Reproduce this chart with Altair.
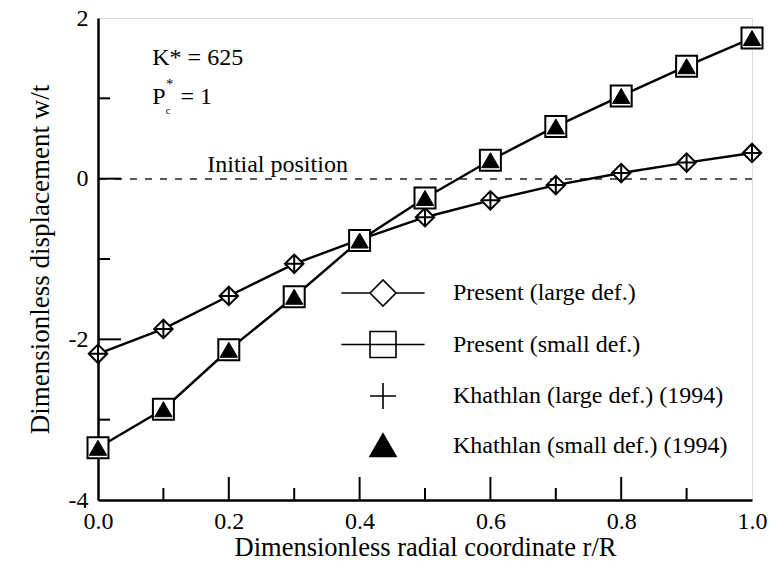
import altair as alt
import pandas as pd

# ---- data ----
r = [0.0, 0.1, 0.2, 0.3, 0.4, 0.5, 0.6, 0.7, 0.8, 0.9, 1.0]
present_large = [-2.18, -1.87, -1.46, -1.06, -0.76, -0.48, -0.27, -0.08, 0.07, 0.20, 0.32]
present_small = [-3.35, -2.87, -2.13, -1.47, -0.77, -0.24, 0.23, 0.65, 1.03, 1.40, 1.75]
khathlan_large = [-2.18, -1.87, -1.46, -1.06, -0.76, -0.48, -0.27, -0.08, 0.07, 0.20, 0.32]
khathlan_small = [-3.35, -2.87, -2.13, -1.47, -0.77, -0.24, 0.23, 0.65, 1.03, 1.40, 1.75]

series_names = [
    "Present (large def.)",
    "Present (small def.)",
    "Khathlan (large def.) (1994)",
    "Khathlan (small def.) (1994)",
]
legend_paths = [
    "M-3.2,0L-1,0M1,0L3.2,0M-1,0L0,-1L1,0L0,1Z",
    "M-3.2,0L3.2,0M-1,-1L1,-1L1,1L-1,1Z",
    "M-1,0L1,0M0,-1L0,1",
    "M0,-0.9L1,0.85L-1,0.85Z",
]
legend_fills = ["transparent", "transparent", "transparent", "black"]
legend_strokes = ["black", "black", "black", "black"]

x_tick_labels = [0.0, 0.2, 0.4, 0.6, 0.8, 1.0]
y_tick_labels = [-4, -2, 0, 2]
x_major_ticks = [0.2, 0.4, 0.6, 0.8]
x_minor_ticks = [0.1, 0.3, 0.5, 0.7, 0.9]
y_major_ticks = [-2, 0]
y_minor_ticks = [-3, -1, 1]

FONT = "Liberation Serif, Times New Roman, Times, serif"
W, H = 654, 482

df = pd.DataFrame({
    "r": r,
    "pl": present_large,
    "ps": present_small,
    "kl": khathlan_large,
    "ks": khathlan_small,
})

xscale = alt.Scale(domain=[0, 1], nice=False, zero=False)
yscale = alt.Scale(domain=[-4, 2], nice=False, zero=False)

xaxis = alt.Axis(
    values=x_tick_labels, format=".1f", ticks=False, grid=False, labelFlush=False,
    domainColor="black", domainWidth=2.5,
    labelFont=FONT, labelFontSize=24, labelColor="black", labelPadding=9,
    title="Dimensionless radial coordinate r/R", titleFont=FONT,
    titleFontSize=26.5, titleFontWeight="normal", titleColor="black", titlePadding=1,
)
yaxis = alt.Axis(
    values=y_tick_labels, labelExpr="toString(datum.value)", ticks=False, grid=False,
    labelFlush=False,
    domainColor="black", domainWidth=2.5,
    labelFont=FONT, labelFontSize=24, labelColor="black", labelPadding=10,
    title="Dimensionless displacement w/t", titleFont=FONT,
    titleFontSize=27, titleFontWeight="normal", titleColor="black", titlePadding=14,
)

base = alt.Chart(df)

zero_line = base.mark_rule(strokeDash=[7, 8], color="#555555", strokeWidth=1.2).encode(
    y=alt.datum(0, scale=yscale, axis=yaxis)
)

line_large = base.mark_line(color="black", strokeWidth=2.4).encode(
    x=alt.X("r:Q", scale=xscale, axis=xaxis),
    y=alt.Y("pl:Q", scale=yscale, axis=yaxis),
)
line_small = base.mark_line(color="black", strokeWidth=2.4).encode(
    x=alt.X("r:Q", scale=xscale, axis=xaxis),
    y=alt.Y("ps:Q", scale=yscale, axis=yaxis),
)

diamonds = base.mark_point(shape="diamond", size=340, filled=True, fill="white",
                           stroke="black", strokeWidth=2, opacity=1).encode(
    x=alt.X("r:Q", scale=xscale, axis=xaxis), y=alt.Y("pl:Q", scale=yscale, axis=yaxis))
pluses = base.mark_point(shape="M-1,0L1,0M0,-1L0,1", size=250, filled=False,
                         stroke="black", strokeWidth=2, opacity=1).encode(
    x=alt.X("r:Q", scale=xscale, axis=xaxis), y=alt.Y("kl:Q", scale=yscale, axis=yaxis))
squares = base.mark_point(shape="square", size=440, filled=True, fill="white",
                          stroke="black", strokeWidth=2, opacity=1).encode(
    x=alt.X("r:Q", scale=xscale, axis=xaxis), y=alt.Y("ps:Q", scale=yscale, axis=yaxis))
triangles = base.mark_point(shape="triangle-up", size=300, filled=True, fill="black",
                            stroke="black", strokeWidth=1, opacity=1).encode(
    x=alt.X("r:Q", scale=xscale, axis=xaxis), y=alt.Y("ks:Q", scale=yscale, axis=yaxis))

# ---- inward axis ticks ----
xmaj = alt.Chart(pd.DataFrame({"t": x_major_ticks})).mark_rule(color="black", strokeWidth=2).encode(
    x=alt.X("t:Q", scale=xscale, axis=xaxis), y=alt.value(H), y2=alt.value(H - 23))
xmin = alt.Chart(pd.DataFrame({"t": x_minor_ticks})).mark_rule(color="black", strokeWidth=2).encode(
    x=alt.X("t:Q", scale=xscale, axis=xaxis), y=alt.value(H), y2=alt.value(H - 12))
ymaj = alt.Chart(pd.DataFrame({"t": y_major_ticks})).mark_rule(color="black", strokeWidth=2).encode(
    y=alt.Y("t:Q", scale=yscale, axis=yaxis), x=alt.value(0), x2=alt.value(23))
ymin = alt.Chart(pd.DataFrame({"t": y_minor_ticks})).mark_rule(color="black", strokeWidth=2).encode(
    y=alt.Y("t:Q", scale=yscale, axis=yaxis), x=alt.value(0), x2=alt.value(12))

# ---- annotations ----
ann_text = ["K* = 625", "P", "c", "*", "= 1", "Initial position"]
ann_x = [0.083, 0.083, 0.1035, 0.1045, 0.126, 0.167]
ann_y = [1.50, 1.02, 0.84, 1.17, 1.02, 0.17]
ann_size = [24, 24, 10, 14, 24, 24]
ann = alt.Chart(pd.DataFrame({"t": ann_text, "x": ann_x, "y": ann_y, "s": ann_size})).mark_text(
    align="left", baseline="middle", font=FONT, color="black").encode(
    x=alt.X("x:Q", scale=xscale, axis=xaxis),
    y=alt.Y("y:Q", scale=yscale, axis=yaxis),
    text="t:N",
    size=alt.Size("s:Q", scale=None, legend=None),
)

# ---- legend (scale-driven, no drawn data) ----
def make_legend():
    return alt.Legend(
        title=None, orient="none", legendX=271, legendY=261,
        symbolSize=676, symbolStrokeWidth=1.6, symbolStrokeColor="black",
        labelFont=FONT, labelFontSize=24, labelColor="black",
        labelOffset=56, rowPadding=17.5, padding=0, labelLimit=400,
    )

legend_layer = alt.Chart(pd.DataFrame({"series": series_names})).transform_filter(
    "false").mark_point(filled=True, strokeWidth=1.6, opacity=1).encode(
    shape=alt.Shape("series:N", scale=alt.Scale(domain=series_names, range=legend_paths),
                    legend=make_legend()),
    fill=alt.Fill("series:N", scale=alt.Scale(domain=series_names, range=legend_fills),
                  legend=make_legend()),
    stroke=alt.Stroke("series:N", scale=alt.Scale(domain=series_names, range=legend_strokes),
                      legend=make_legend()),
)

chart = alt.layer(
    zero_line, line_large, line_small, diamonds, pluses, squares, triangles,
    xmaj, xmin, ymaj, ymin, ann, legend_layer,
).properties(
    width=W, height=H,
    autosize=alt.AutoSizeParams(type="none"),
    padding={"left": 98, "top": 18, "right": 18, "bottom": 71},
).configure_view(stroke="black", strokeWidth=2).configure(background="white")

chart.save("out.html", embed_options={"renderer": "svg", "actions": False})
